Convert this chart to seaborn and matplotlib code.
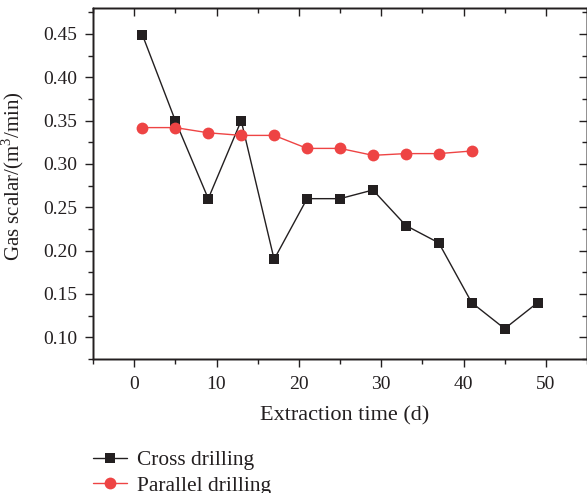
import matplotlib
matplotlib.use("Agg")
import matplotlib.pyplot as plt
import seaborn as sns
import pandas as pd
from matplotlib.ticker import MultipleLocator

cross_x = [1, 5, 9, 13, 17, 21, 25, 29, 33, 37, 41, 45, 49]
cross_y = [0.449, 0.350, 0.260, 0.350, 0.190, 0.260, 0.260, 0.270, 0.229, 0.209, 0.140, 0.110, 0.140]
par_x = [1, 5, 9, 13, 17, 21, 25, 29, 33, 37, 41]
par_y = [0.342, 0.342, 0.336, 0.333, 0.333, 0.318, 0.318, 0.310, 0.312, 0.312, 0.315]
y_ticks = [0.10, 0.15, 0.20, 0.25, 0.30, 0.35, 0.40, 0.45]
y_tick_labels = ['0.10', '0.15', '0.20', '0.25', '0.30', '0.35', '0.40', '0.45']

sns.set_theme(style="ticks")
plt.rcParams['font.family'] = ['Liberation Serif', 'DejaVu Serif']
plt.rcParams['mathtext.fontset'] = 'custom'
plt.rcParams['mathtext.rm'] = 'Liberation Serif'

ink = '#231f20'
red = '#ee4444'

fig = plt.figure(figsize=(5.87, 4.93), dpi=100)
ax = fig.add_axes([93/587, 1-359/493, 1-93/587, (359-8)/493])

df1 = pd.DataFrame({'x': cross_x, 'y': cross_y})
df2 = pd.DataFrame({'x': par_x, 'y': par_y})
sns.lineplot(data=df1, x='x', y='y', ax=ax, color=ink, marker='s', markersize=7,
             markeredgewidth=0, linewidth=1.0, label='Cross drilling')
sns.lineplot(data=df2, x='x', y='y', ax=ax, color=red, marker='o', markersize=8.5,
             markeredgewidth=0, linewidth=1.0, label='Parallel drilling')

xlim = (-5, 55)
ylim = (0.075, 0.48)
ax.set_xlim(*xlim)
ax.set_ylim(*ylim)
ax.xaxis.set_major_locator(MultipleLocator(10))
ax.xaxis.set_minor_locator(MultipleLocator(5))
ax.set_yticks(y_ticks)
ax.set_yticklabels(y_tick_labels)
ax.yaxis.set_minor_locator(MultipleLocator(0.025))
ax.tick_params(axis='both', which='both', direction='out', colors=ink, labelcolor=ink,
               labelsize=14, width=1.0)
ax.tick_params(which='major', length=5.5)
ax.tick_params(which='minor', length=3.6)
ax.tick_params(axis='y', which='major', pad=6)
ax.tick_params(axis='x', which='major', pad=7)

axt = ax.twiny()
axt.set_xlim(*xlim)
axt.xaxis.set_major_locator(MultipleLocator(10))
axt.xaxis.set_minor_locator(MultipleLocator(5))
axt.tick_params(axis='x', which='both', direction='in', labeltop=False, colors=ink, width=1.0)
axt.tick_params(which='major', length=5.5)
axt.tick_params(which='minor', length=3.6)
axr = ax.twinx()
axr.set_ylim(*ylim)
axr.yaxis.set_major_locator(MultipleLocator(0.05))
axr.yaxis.set_minor_locator(MultipleLocator(0.025))
axr.tick_params(axis='y', which='both', direction='in', labelright=False, colors=ink, width=1.0)
axr.tick_params(which='major', length=5.5)
axr.tick_params(which='minor', length=3.6)

for a in (ax, axt, axr):
    for s in a.spines.values():
        s.set_color(ink)
        s.set_linewidth(1.0)

ax.set_xlabel('Extraction time (d)', fontsize=16, color=ink)
ax.set_ylabel('Gas scalar/(m$^3$/min)', fontsize=15, color=ink)
ax.xaxis.set_label_coords(0.51, -0.135)
ax.yaxis.set_label_coords(-0.135, 0.52)

handles, labels = ax.get_legend_handles_labels()
ax.get_legend().remove()
fig.legend(handles, labels, loc='upper left', bbox_to_anchor=(74/587, 1-431/493),
           frameon=False, fontsize=15.4, handlelength=1.6, handletextpad=0.45,
           labelspacing=0.25, labelcolor=ink)

fig.savefig('out.png', dpi=100)
